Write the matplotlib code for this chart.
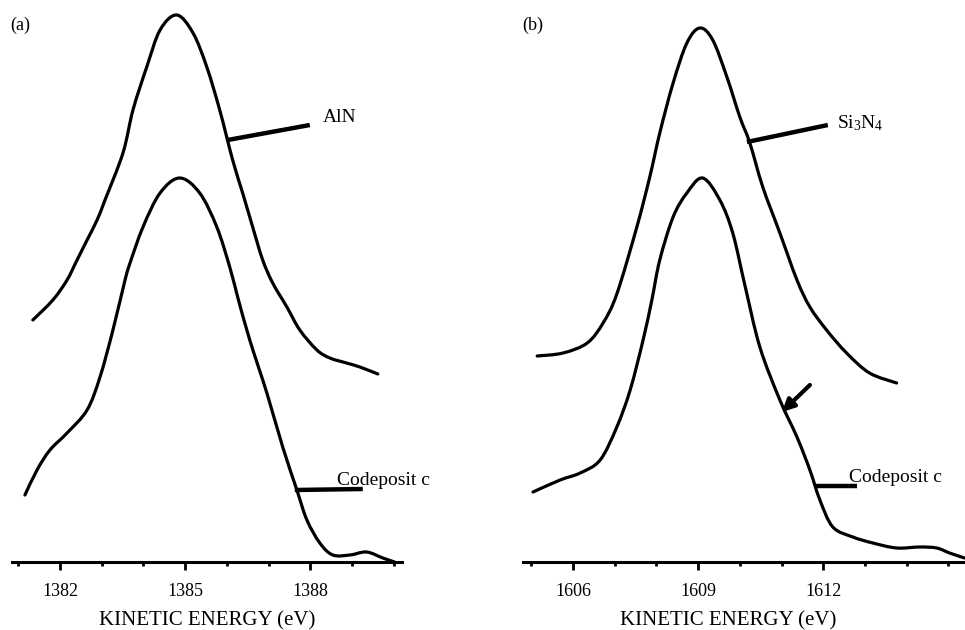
import matplotlib
matplotlib.use("Agg")
import matplotlib.pyplot as plt
from matplotlib.path import Path
from matplotlib.patches import PathPatch

plt.rcParams["font.family"] = ["Liberation Serif", "DejaVu Serif"]
plt.rcParams["mathtext.fontset"] = "custom"
plt.rcParams["mathtext.rm"] = "Liberation Serif"
plt.rcParams["mathtext.it"] = "Liberation Serif:italic"

# panel (a): Al KLL region, intensity in arbitrary units (baseline = 0)
aln_ev = [1381.35, 1381.83, 1382.17, 1382.41, 1382.65, 1382.89, 1383.08, 1383.51,
          1383.75, 1384.08, 1384.40, 1384.80, 1385.19, 1385.52, 1385.83, 1386.14,
          1386.38, 1386.62, 1386.86, 1387.10, 1387.44, 1387.75, 1388.16, 1388.47,
          1388.87, 1389.19, 1389.62]
aln_int = [242, 262, 282, 302, 322, 342, 362, 409,
           452, 495, 532, 547, 529, 495, 452, 402,
           369, 335, 302, 279, 255, 232, 212, 204,
           199, 195, 188]

coda_ev = [1381.16, 1381.45, 1381.76, 1382.17, 1382.65, 1382.96, 1383.27, 1383.56,
           1383.68, 1383.99, 1384.40, 1384.87, 1385.35, 1385.76, 1386.07, 1386.26,
           1386.55, 1386.96, 1387.34, 1387.68, 1387.92, 1388.23, 1388.54, 1388.95,
           1389.35, 1389.74, 1390.02]
coda_int = [67, 92, 112, 129, 152, 185, 232, 282,
            299, 335, 369, 384, 369, 335, 295, 265,
            222, 169, 115, 72, 42, 19, 7, 7,
            10, 4, 0]

# panel (b): Si KLL region
sin_ev = [1605.14, 1605.76, 1606.34, 1606.72, 1607.05, 1607.53, 1607.84,
          1608.08, 1608.40, 1608.73, 1609.04, 1609.35, 1609.69, 1610.00, 1610.24,
          1610.55, 1610.96, 1611.37, 1611.68, 1612.08, 1612.56, 1613.11, 1613.76]
sin_int = [206, 209, 219, 239, 268, 335, 385,
           429, 479, 519, 534, 522, 485, 445, 419,
           375, 329, 282, 255, 232, 209, 189, 179]

codb_ev = [1605.04, 1605.69, 1606.17, 1606.65, 1607.05, 1607.37, 1607.68, 1607.89,
           1608.08, 1608.40, 1608.73, 1609.11, 1609.52, 1609.83, 1610.12, 1610.48,
           1610.96, 1611.37, 1611.68, 1611.92, 1612.23, 1612.71, 1613.19, 1613.76,
           1614.31, 1614.72, 1615.03, 1615.39]
codb_int = [70, 82, 89, 102, 135, 172, 222, 262,
            302, 345, 369, 384, 362, 329, 277, 215,
            162, 125, 92, 62, 35, 25, 19, 14,
            15, 14, 9, 4]

ticks_a = [1382, 1385, 1388]
ticks_b = [1606, 1609, 1612]


def smooth_curve(ax, xs, ys, lw=2.3):
    # draw a smooth (Catmull-Rom as Bezier) line through the read points
    pts = list(zip(xs, ys))
    verts = [pts[0]]
    codes = [Path.MOVETO]
    n = len(pts)
    for i in range(n - 1):
        p0 = pts[max(i - 1, 0)]
        p1 = pts[i]
        p2 = pts[i + 1]
        p3 = pts[min(i + 2, n - 1)]
        c1 = (p1[0] + (p2[0] - p0[0]) / 6, p1[1] + (p2[1] - p0[1]) / 6)
        c2 = (p2[0] - (p3[0] - p1[0]) / 6, p2[1] - (p3[1] - p1[1]) / 6)
        verts += [c1, c2, p2]
        codes += [Path.CURVE4] * 3
    patch = PathPatch(Path(verts, codes), fill=False, edgecolor="k", lw=lw,
                      capstyle="round", joinstyle="round", clip_on=False)
    ax.add_patch(patch)


fig = plt.figure(figsize=(9.65, 6.3), dpi=100)
W, H = 965.0, 630.0
ax_a = fig.add_axes([12 / W, 68 / H, 390 / W, 562 / H])
ax_b = fig.add_axes([523 / W, 68 / H, 442 / W, 562 / H])

smooth_curve(ax_a, aln_ev, aln_int)
smooth_curve(ax_a, coda_ev, coda_int)
smooth_curve(ax_b, sin_ev, sin_int)
smooth_curve(ax_b, codb_ev, codb_int)

ax_a.set_xlim(1380.85, 1390.2)
ax_b.set_xlim(1604.8, 1615.4)

for ax, ticks in [(ax_a, ticks_a), (ax_b, ticks_b)]:
    ax.set_ylim(0, 562)
    for s in ["top", "left", "right"]:
        ax.spines[s].set_visible(False)
    ax.spines["bottom"].set_linewidth(2.2)
    ax.set_yticks([])
    ax.set_xticks(ticks)
    ax.set_xticklabels([str(t) for t in ticks])
    lo, hi = ax.get_xlim()
    ax.set_xticks(list(range(int(lo) + 1, int(hi) + 1)), minor=True)
    ax.tick_params(axis="x", which="major", direction="out", length=6, width=2, labelsize=13, pad=9)
    ax.tick_params(axis="x", which="minor", direction="out", length=3, width=2)
    ax.set_xlabel("KINETIC ENERGY (eV)", fontsize=15, va="baseline")
    ax.patch.set_visible(False)

ax_a.xaxis.set_label_coords(0.5, -0.113)
ax_b.xaxis.set_label_coords(0.465, -0.113)

# leaders and labels
lead = dict(color="k", lw=3.2, solid_capstyle="butt")
ax_a.plot([1386.02, 1387.99], [422, 437], **lead)
ax_a.text(1388.30, 444, "AlN", fontsize=14, va="center", ha="left")
ax_a.plot([1387.63, 1389.26], [72, 73], **lead)
ax_a.text(1388.63, 77, "Codeposit c", fontsize=14, va="baseline", ha="left")

ax_b.plot([1610.17, 1612.11], [420, 437], **lead)
ax_b.text(1612.32, 439, r"Si$_3$N$_4$", fontsize=14, va="center", ha="left")
ax_b.plot([1611.80, 1612.80], [76, 76], **lead)
ax_b.text(1612.61, 80, "Codeposit c", fontsize=14, va="baseline", ha="left")
ax_b.annotate("", xy=(1611.01, 150), xytext=(1611.68, 177),
              arrowprops=dict(arrowstyle="-|>", lw=3, color="k", mutation_scale=18,
                              shrinkA=0, shrinkB=0))

fig.text(10 / W, 1 - 17 / H, "(a)", fontsize=13, va="top", ha="left")
fig.text(522 / W, 1 - 17 / H, "(b)", fontsize=13, va="top", ha="left")

fig.savefig("out.png", dpi=100)
